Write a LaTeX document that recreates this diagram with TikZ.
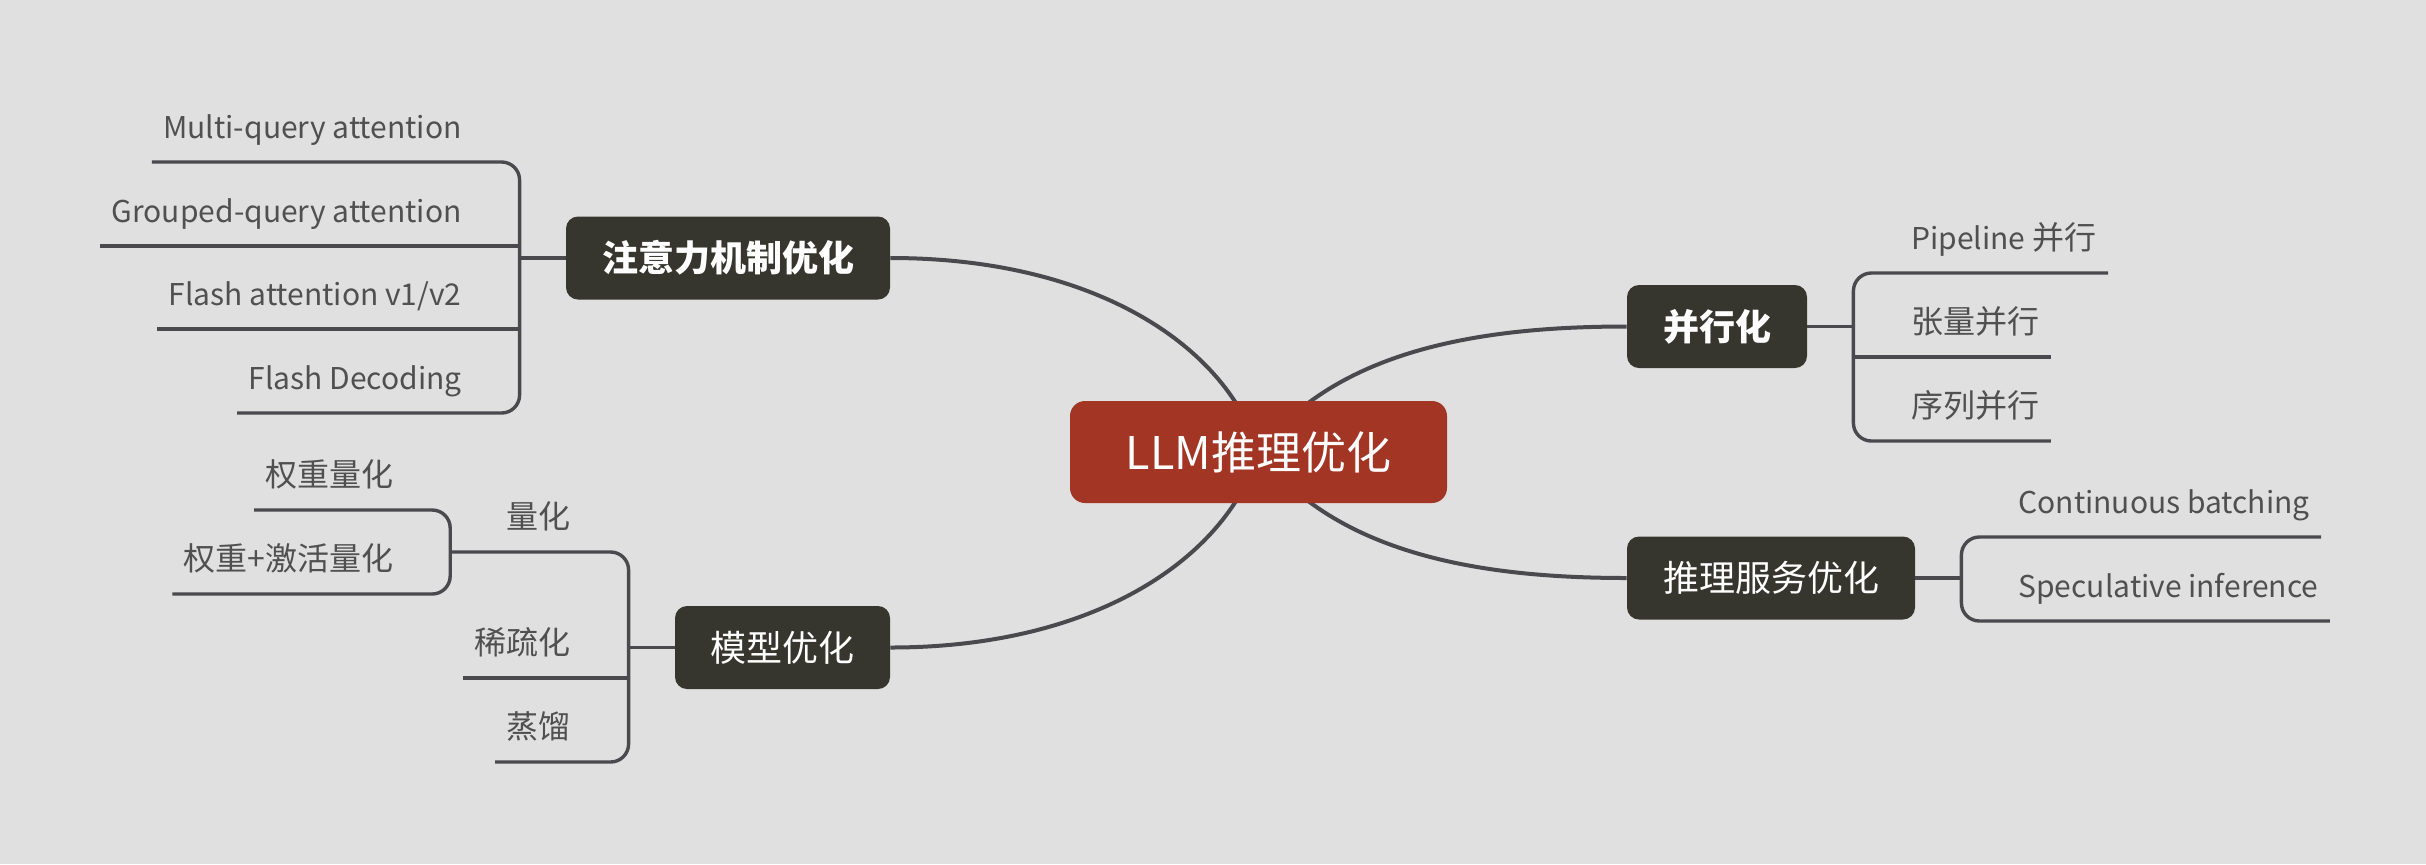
\documentclass[tikz,border=0pt]{standalone}
\usepackage{fontspec}
\setmainfont{Noto Sans CJK SC}
\usepackage{xcolor}
\usepackage{tikz}
\usetikzlibrary{positioning, backgrounds, calc}

\definecolor{rootred}{HTML}{A33525}
\definecolor{topicdark}{HTML}{36362F}
\definecolor{linegray}{HTML}{4A4A4E}
\definecolor{leafgray}{HTML}{505050}
\definecolor{paper}{HTML}{E0E0E0}

\begin{document}
\begin{tikzpicture}[
    x=0.5pt, y=-0.5pt,
    root/.style={rounded corners=7.5pt, fill=rootred, text=white,
                 font=\fontsize{22.5}{26}\selectfont, inner sep=0pt,
                 minimum width=188.5pt, minimum height=51pt},
    topic/.style={rounded corners=6pt, fill=topicdark, text=white,
                  font=\fontsize{18}{22}\selectfont, inner sep=0pt,
                  minimum height=41.5pt},
    leaf/.style={text=leafgray, font=\fontsize{16}{18}\selectfont,
                 text height=12pt, text depth=3pt, minimum height=32pt,
                 inner xsep=5.5pt, inner ysep=0pt},
    latin/.style={leaf, font=\fontsize{15}{18}\selectfont},
    trunk/.style={draw=linegray, line width=2pt},
    branch/.style={draw=linegray, line width=1.7pt, rounded corners=9pt}
]
\useasboundingbox (0,0) rectangle (2426,864);
% Centre
\node[root] (root) at (1258.5,452) {LLM推理优化};
% Topics
\node[topic, minimum width=162pt, font=\fontsize{18}{22}\selectfont\bfseries]
      (attn) at (728,258) {注意力机制优化};
\node[topic, minimum width=107.5pt] (model) at (782.5,647.5) {模型优化};
\node[topic, minimum width=90pt, font=\fontsize{18}{22}\selectfont\bfseries]
      (para) at (1717,326.5) {并行化};
\node[topic, minimum width=144pt] (serve) at (1771,578) {推理服务优化};
\coordinate (attnJ) at ([xshift=-23pt]attn.west);
\coordinate (modelJ) at ([xshift=-23pt]model.west);
\coordinate (paraJ) at ([xshift=23pt]para.east);
\coordinate (serveJ) at ([xshift=23pt]serve.east);
% Left top — attention
\node[latin, anchor=south east] (mqa) at (473,162) {Multi-query attention};
\node[latin, anchor=south east] (gqa) at (473,246) {Grouped-query attention};
\node[latin, anchor=south east] (flash) at (473,329) {Flash attention v1/v2};
\node[latin, anchor=south east] (fdec) at (473,413) {Flash Decoding};
\draw[branch] (attn.west) -- (attnJ);
\draw[branch] (mqa.south west) -- (mqa.south -| attnJ) -- (fdec.south -| attnJ)
      -- (fdec.south west);
\draw[branch] (gqa.south west) -- (gqa.south -| attnJ);
\draw[branch] (flash.south west) -- (flash.south -| attnJ);
% Left bottom — model
\node[leaf, anchor=south east] (quant) at (582,552) {量化};
\node[leaf, anchor=south east] (sparse) at (582,678) {稀疏化};
\node[leaf, anchor=south east] (distill) at (582,762) {蒸馏};
\coordinate (quantJ) at ([xshift=-22.5pt]quant.south west);
\node[leaf, anchor=south east] (wq) at (405,510) {权重量化};
\node[leaf, anchor=south east] (waq) at (405,594) {权重+激活量化};
\draw[branch] (model.west) -- (modelJ);
\draw[branch] (quantJ) -- (quant.south -| modelJ) -- (distill.south -| modelJ)
      -- (distill.south west);
\draw[branch] (sparse.south west) -- (sparse.south -| modelJ);
\draw[branch] (wq.south west) -- (wq.south -| quantJ) -- (waq.south -| quantJ)
      -- (waq.south west);
% Right top — parallel
\node[leaf, anchor=south west] (pipe) at (1900,273)
      {{\fontsize{15}{18}\selectfont Pipeline} 并行};
\node[leaf, anchor=south west] (tensor) at (1900,357) {张量并行};
\node[leaf, anchor=south west] (seq) at (1900,441) {序列并行};
\draw[branch] (para.east) -- (paraJ);
\draw[branch] (pipe.south east) -- (pipe.south -| paraJ) -- (seq.south -| paraJ)
      -- (seq.south east);
\draw[branch] (tensor.south -| paraJ) -- (tensor.south east);
% Right bottom — serving
\node[latin, anchor=south west] (cbatch) at (2007,537) {Continuous batching};
\node[latin, anchor=south west] (spec) at (2007,621) {Speculative inference};
\draw[branch] (serve.east) -- (serveJ);
\draw[branch] (cbatch.south east) -- (cbatch.south -| serveJ)
      -- (spec.south -| serveJ) -- (spec.south east);
% Curves behind the nodes
\begin{scope}[on background layer]
\fill[paper] (0,0) rectangle (2426,864);
\draw[trunk] (root.center) .. controls +(-30,-102) and +(210,0) .. (attn.east);
\draw[trunk] (root.center) .. controls +(-30,102) and +(210,0) .. (model.east);
\draw[trunk] (root.center) .. controls +(78,-102) and +(-147,0) .. (para.west);
\draw[trunk] (root.center) .. controls +(78,102) and +(-147,0) .. (serve.west);
\end{scope}
\end{tikzpicture}
\end{document}
